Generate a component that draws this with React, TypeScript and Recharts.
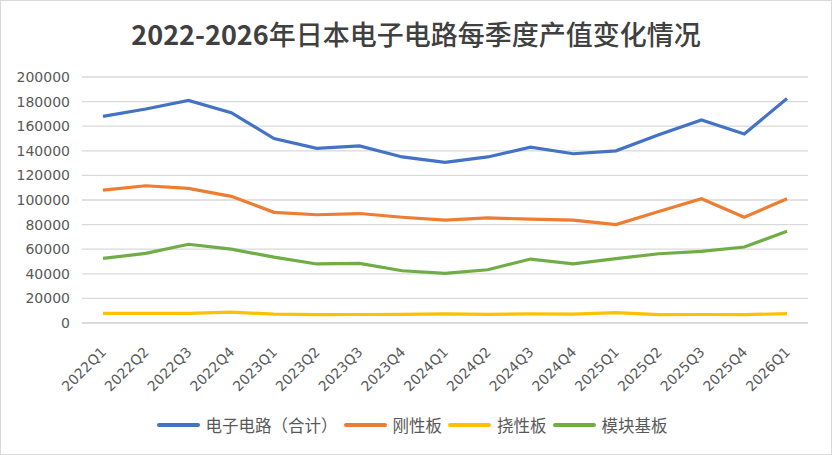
import { CartesianGrid, Legend, Line, LineChart, XAxis, YAxis } from "recharts";

const quarters = [
  "2022Q1", "2022Q2", "2022Q3", "2022Q4",
  "2023Q1", "2023Q2", "2023Q3", "2023Q4",
  "2024Q1", "2024Q2", "2024Q3", "2024Q4",
  "2025Q1", "2025Q2", "2025Q3", "2025Q4",
  "2026Q1",
];

const totalValues = [168000, 174000, 181000, 171000, 150000, 142000, 144000, 135000, 130600, 135000, 143000, 137600, 140000, 153000, 165000, 153600, 182600];
const rigidValues = [108000, 111600, 109500, 103000, 90000, 88000, 89000, 86000, 83700, 85400, 84500, 83700, 80000, 90700, 101000, 86000, 101000];
const flexValues = [7800, 7800, 7800, 8800, 7200, 6800, 6900, 7000, 7400, 7000, 7400, 7200, 8400, 6800, 6900, 6800, 7600];
const moduleValues = [52500, 56600, 64000, 60000, 53600, 48000, 48500, 42500, 40300, 43300, 52000, 48000, 52300, 56300, 58200, 61800, 74500];

const yTicks = [0, 20000, 40000, 60000, 80000, 100000, 120000, 140000, 160000, 180000, 200000];

const series = [
  { key: "total", name: "电子电路（合计）", color: "#4472C4" },
  { key: "rigid", name: "刚性板", color: "#ED7D31" },
  { key: "flex", name: "挠性板", color: "#FFC000" },
  { key: "module", name: "模块基板", color: "#70AD47" },
];

const data = quarters.map((q, i) => ({
  quarter: q,
  total: totalValues[i],
  rigid: rigidValues[i],
  flex: flexValues[i],
  module: moduleValues[i],
}));

const axisFont = "'DejaVu Sans', 'Noto Sans CJK SC', sans-serif";
const cjkFont = "'Noto Sans CJK SC', 'DejaVu Sans', sans-serif";

function QuarterTick({ x, y, payload }: any) {
  return (
    <g transform={`translate(${x + 4},${y + 22})`}>
      <text
        x={0}
        y={0}
        textAnchor="end"
        transform="rotate(-45)"
        fill="#595959"
        fontSize={14}
        fontFamily={axisFont}
      >
        {payload.value}
      </text>
    </g>
  );
}

function SeriesLegend() {
  return (
    <div
      style={{
        display: "flex",
        justifyContent: "center",
        alignItems: "center",
        height: 24,
        fontFamily: cjkFont,
        fontSize: 16.5,
        color: "#595959",
      }}
    >
      {series.map((s) => (
        <span key={s.key} style={{ display: "flex", alignItems: "center", marginRight: 6 }}>
          <i
            style={{
              display: "inline-block",
              width: 43,
              height: 4,
              borderRadius: 2,
              background: s.color,
              marginRight: 6,
            }}
          />
          {s.name}
        </span>
      ))}
    </div>
  );
}

export default function App() {
  return (
    <div
      style={{
        position: "absolute",
        left: 0,
        top: 0,
        width: 832,
        height: 455,
        boxSizing: "border-box",
        border: "1px solid #d9d9d9",
        background: "#fff",
      }}
    >
      <div
        style={{
          position: "absolute",
          left: 0,
          right: 0,
          top: 15,
          textAlign: "center",
          fontFamily: cjkFont,
          fontSize: 27,
          color: "#404040",
          lineHeight: "36px",
        }}
      >
        <span style={{ fontWeight: 700 }}>2022-2026</span>
        <span style={{ fontWeight: 500 }}>年日本电子电路每季度产值变化情况</span>
      </div>
      <LineChart
        width={830}
        height={453}
        data={data}
        margin={{ top: 76, right: 23, bottom: 17, left: 21 }}
      >
        <CartesianGrid vertical={false} stroke="#d9d9d9" strokeWidth={1.3} />
        <XAxis
          dataKey="quarter"
          interval={0}
          height={90}
          padding={{ left: 21, right: 21 }}
          axisLine={{ stroke: "#d9d9d9", strokeWidth: 1.3 }}
          tickLine={false}
          tick={<QuarterTick />}
        />
        <YAxis
          width={60}
          domain={[0, 200000]}
          ticks={yTicks}
          interval={0}
          axisLine={false}
          tickLine={false}
          tickMargin={6}
          tick={{ fill: "#595959", fontSize: 14, fontFamily: axisFont }}
        />
        <Legend verticalAlign="bottom" content={<SeriesLegend />} />
        {series.map((s) => (
          <Line
            key={s.key}
            type="linear"
            dataKey={s.key}
            name={s.name}
            stroke={s.color}
            strokeWidth={3.2}
            dot={false}
            isAnimationActive={false}
          />
        ))}
      </LineChart>
    </div>
  );
}
